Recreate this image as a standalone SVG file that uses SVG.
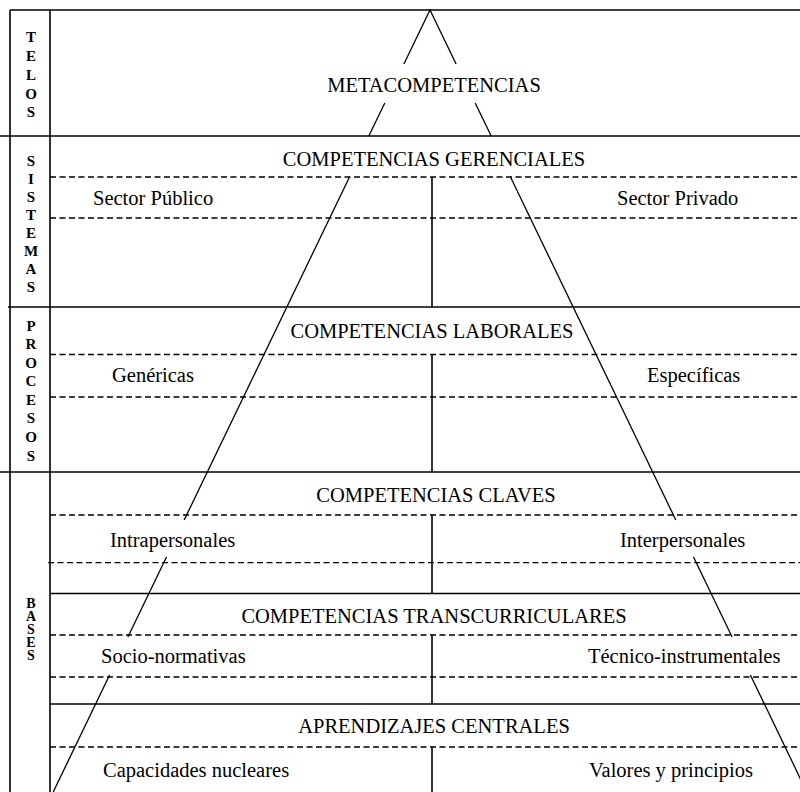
<svg xmlns="http://www.w3.org/2000/svg" width="800" height="792" viewBox="0 0 800 792">
<style>
.solid{stroke:#000;stroke-width:1.6;fill:none}
.dash{stroke:#000;stroke-width:1.3;stroke-dasharray:6 3.5;fill:none}
.pyr{stroke:#000;stroke-width:1.3;fill:none}
.t{font-family:"Liberation Serif","Times New Roman",serif;font-size:20.5px;fill:#000}
.c{text-anchor:middle}
.side{font-family:"Liberation Serif","Times New Roman",serif;font-size:15px;font-weight:bold;fill:#000;text-anchor:middle}
.sb{font-family:"Liberation Serif","Times New Roman",serif;font-size:14px;font-weight:bold;fill:#000;text-anchor:middle}
</style>
<rect width="800" height="792" fill="#fff"/>
<g id="grid">
<line class="solid" x1="10" y1="10" x2="800" y2="10"/>
<line class="solid" x1="10" y1="10" x2="10" y2="792"/>
<line class="solid" x1="50" y1="10" x2="50" y2="792"/>
<line class="solid" x1="0" y1="136" x2="800" y2="136"/>
<line class="solid" x1="8" y1="307" x2="800" y2="307"/>
<line class="solid" x1="0" y1="472" x2="800" y2="472"/>
<line class="solid" x1="50" y1="593.5" x2="800" y2="593.5"/>
<line class="solid" x1="50" y1="704" x2="800" y2="704"/>
<line class="dash" x1="50" y1="177" x2="800" y2="177"/>
<line class="dash" x1="50" y1="218" x2="800" y2="218"/>
<line class="dash" x1="50" y1="354.5" x2="800" y2="354.5"/>
<line class="dash" x1="50" y1="397" x2="800" y2="397"/>
<line class="dash" x1="50" y1="515" x2="800" y2="515"/>
<line class="dash" x1="48" y1="562.7" x2="800" y2="562.7"/>
<line class="dash" x1="50" y1="635" x2="800" y2="635"/>
<line class="dash" x1="50" y1="677" x2="800" y2="677"/>
<line class="dash" x1="50" y1="747" x2="800" y2="747"/>
<line class="solid" x1="432" y1="177" x2="432" y2="307"/>
<line class="solid" x1="432" y1="354.5" x2="432" y2="472"/>
<line class="solid" x1="432" y1="515" x2="432" y2="593.5"/>
<line class="solid" x1="432" y1="635" x2="432" y2="704"/>
<line class="solid" x1="432" y1="747" x2="432" y2="792"/>
</g>
<g id="telos">
<text class="side" x="31" y="42">T</text><text class="side" x="31" y="61">E</text><text class="side" x="31" y="80">L</text><text class="side" x="31" y="99">O</text><text class="side" x="31" y="117">S</text>
</g>
<g id="sistemas">
<text class="side" x="31" y="166">S</text><text class="side" x="31" y="184">I</text><text class="side" x="31" y="202">S</text><text class="side" x="31" y="220">T</text><text class="side" x="31" y="238">E</text><text class="side" x="31" y="256">M</text><text class="side" x="31" y="274">A</text><text class="side" x="31" y="292">S</text>
</g>
<g id="procesos">
<text class="side" x="31" y="331">P</text><text class="side" x="31" y="349">R</text><text class="side" x="31" y="368">O</text><text class="side" x="31" y="386">C</text><text class="side" x="31" y="405">E</text><text class="side" x="31" y="423">S</text><text class="side" x="31" y="442">O</text><text class="side" x="31" y="461">S</text>
</g>
<g id="bases">
<text class="sb" x="31" y="608">B</text><text class="sb" x="31" y="621">A</text><text class="sb" x="31" y="634">S</text><text class="sb" x="31" y="647">E</text><text class="sb" x="31" y="660">S</text>
</g>
<g id="connectors">
<polyline class="pyr" points="403.9,64 430,10 456.1,64"/>
<line class="pyr" x1="384.8" y1="103" x2="368.8" y2="136"/>
<line class="pyr" x1="475.2" y1="103" x2="491.2" y2="136"/>
<line class="pyr" x1="349.5" y1="177" x2="184.2" y2="520"/>
<line class="pyr" x1="510.5" y1="177" x2="675.8" y2="520"/>
<line class="pyr" x1="166.5" y1="557" x2="127.9" y2="637"/>
<line class="pyr" x1="693.5" y1="557" x2="732.1" y2="637"/>
<line class="pyr" x1="109.6" y1="675" x2="53.2" y2="792"/>
<line class="pyr" x1="750.4" y1="675" x2="806.8" y2="792"/>
</g>
<g id="metacompetencias"><text class="t c" x="434" y="92">METACOMPETENCIAS</text></g>
<g id="competencias-gerenciales">
<text class="t c" x="434" y="166">COMPETENCIAS GERENCIALES</text>
<text class="t" x="93" y="205">Sector Público</text>
<text class="t" x="617" y="205">Sector Privado</text>
</g>
<g id="competencias-laborales">
<text class="t c" x="432" y="338">COMPETENCIAS LABORALES</text>
<text class="t" x="112" y="382">Genéricas</text>
<text class="t" x="647" y="382">Específicas</text>
</g>
<g id="competencias-claves">
<text class="t c" x="436" y="502">COMPETENCIAS CLAVES</text>
<text class="t" x="110" y="547">Intrapersonales</text>
<text class="t" x="620" y="547">Interpersonales</text>
</g>
<g id="competencias-transcurriculares">
<text class="t c" x="434" y="623">COMPETENCIAS TRANSCURRICULARES</text>
<text class="t" x="101" y="663">Socio-normativas</text>
<text class="t" x="588" y="663">Técnico-instrumentales</text>
</g>
<g id="aprendizajes-centrales">
<text class="t c" x="434" y="733">APRENDIZAJES CENTRALES</text>
<text class="t" x="103" y="777">Capacidades nucleares</text>
<text class="t" x="589" y="777">Valores y principios</text>
</g>
</svg>
